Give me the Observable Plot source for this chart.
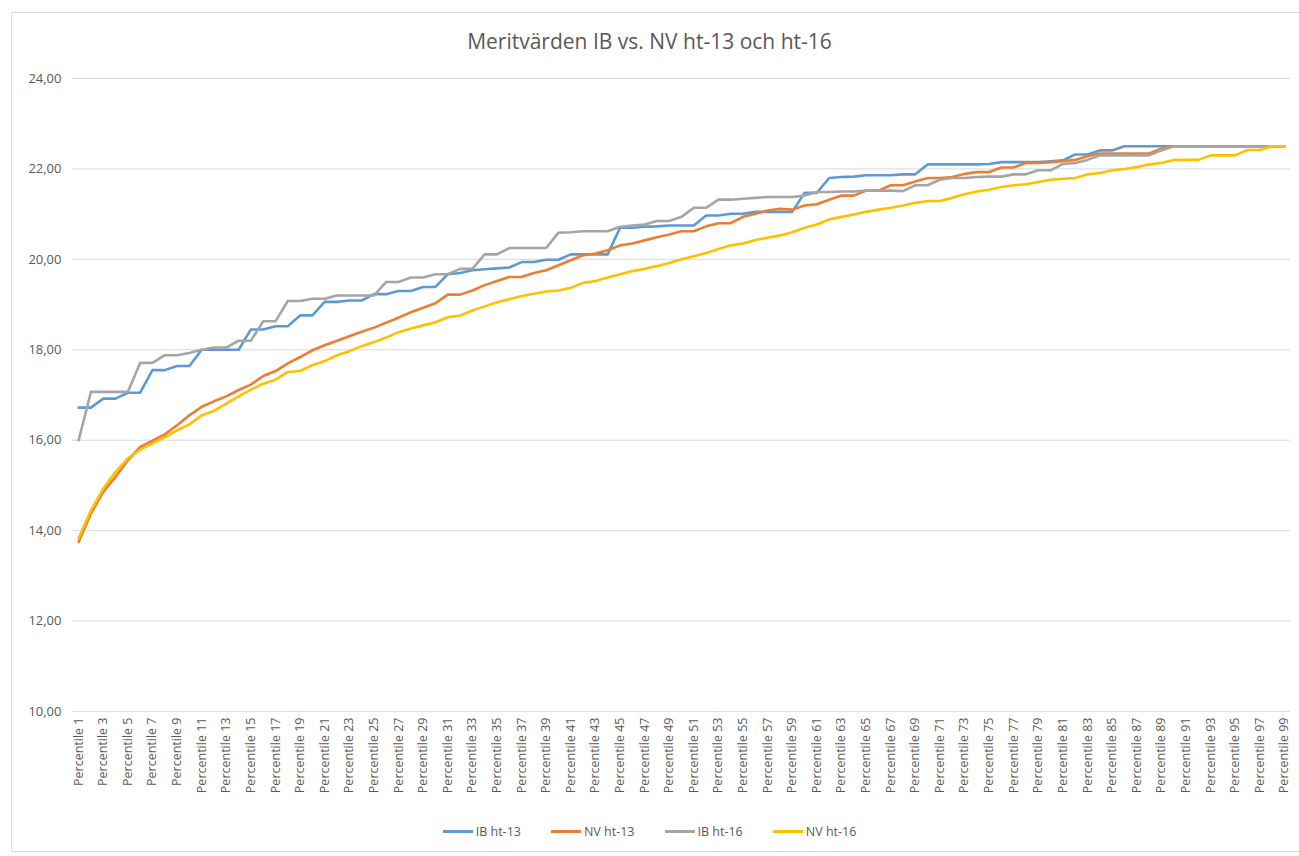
<!DOCTYPE html>
<html>
<head>
<meta charset="utf-8">
<script src="https://cdn.jsdelivr.net/npm/d3@7"></script>
<script src="https://cdn.jsdelivr.net/npm/@observablehq/plot@0.6"></script>
<style>
  body { margin: 0; background: #fff; font-family: "Open Sans", sans-serif; }
  #wrap { position: relative; width: 1299px; height: 856px; overflow: hidden; background: #fff; }
  #frame { position: absolute; left: 11px; top: 12px; width: 1300px; height: 840px; border: 1px solid #d9d9d9; box-sizing: border-box; }
  #title { position: absolute; top: 27px; left: 0; width: 1299px; text-align: center; font-size: 21px; color: #595959; }
  #chart { position: absolute; left: 0; top: 60px; }
  #legend { position: absolute; top: 823px; left: 0; width: 1299px; display: flex; justify-content: center; gap: 30px; font-size: 12.5px; color: #595959; }
  .item { display: flex; align-items: center; gap: 3px; }
  .sw { width: 30px; height: 3px; }
</style>
</head>
<body>
<div id="wrap">
  <div id="frame"></div>
  <div id="title"></div>
  <div id="chart"></div>
  <div id="legend"></div>
</div>
<script>
const titleText = "Meritvärden IB vs. NV ht-13 och ht-16";
const percentiles = d3.range(1, 100).map(i => "Percentile " + i);
const xTickLabels = percentiles.filter((d, i) => i % 2 === 0);
const yTicks = [10, 12, 14, 16, 18, 20, 22, 24];
const seriesNames = ["IB ht-13", "NV ht-13", "IB ht-16", "NV ht-16"];
const seriesColors = ["#5b9bd5", "#ed7d31", "#a5a5a5", "#ffc000"];

const ibHt13 = [16.72,16.72,16.92,16.92,17.05,17.05,17.55,17.55,17.64,17.64,
  18.0,18.0,18.0,18.0,18.45,18.45,18.52,18.52,18.76,18.76,
  19.06,19.06,19.09,19.09,19.23,19.23,19.3,19.3,19.39,19.39,
  19.67,19.7,19.76,19.78,19.8,19.82,19.94,19.94,19.99,19.99,
  20.11,20.11,20.11,20.11,20.7,20.7,20.72,20.73,20.75,20.75,
  20.75,20.97,20.97,21.01,21.01,21.05,21.05,21.05,21.05,21.47,
  21.47,21.8,21.82,21.83,21.86,21.86,21.86,21.88,21.88,22.1,
  22.1,22.1,22.1,22.1,22.11,22.15,22.15,22.15,22.15,22.17,
  22.19,22.32,22.32,22.41,22.41,22.5,22.5,22.5,22.5,22.5,
  22.5,22.5,22.5,22.5,22.5,22.5,22.5,22.5,22.5];

const nvHt13 = [13.75,14.38,14.86,15.19,15.56,15.85,15.99,16.13,16.33,16.55,
  16.74,16.86,16.97,17.11,17.23,17.42,17.53,17.7,17.84,17.99,
  18.1,18.2,18.3,18.4,18.49,18.6,18.71,18.83,18.93,19.03,
  19.22,19.22,19.31,19.43,19.52,19.61,19.61,19.7,19.76,19.87,
  19.98,20.09,20.13,20.2,20.31,20.35,20.42,20.49,20.55,20.62,
  20.62,20.73,20.8,20.8,20.94,21.01,21.08,21.12,21.1,21.19,
  21.22,21.32,21.41,21.41,21.52,21.52,21.64,21.64,21.72,21.8,
  21.8,21.82,21.89,21.93,21.93,22.03,22.03,22.13,22.13,22.15,
  22.17,22.2,22.28,22.34,22.34,22.34,22.34,22.34,22.45,22.5,
  22.5,22.5,22.5,22.5,22.5,22.5,22.5,22.5,22.5];

const ibHt16 = [16.0,17.07,17.07,17.07,17.07,17.71,17.71,17.88,17.88,17.93,
  18.0,18.05,18.05,18.2,18.2,18.63,18.63,19.08,19.08,19.13,
  19.13,19.2,19.2,19.2,19.2,19.5,19.5,19.6,19.6,19.67,
  19.67,19.79,19.79,20.11,20.11,20.25,20.25,20.25,20.25,20.59,
  20.6,20.62,20.62,20.62,20.72,20.75,20.77,20.85,20.85,20.94,
  21.14,21.14,21.32,21.32,21.34,21.36,21.38,21.38,21.38,21.41,
  21.49,21.49,21.5,21.5,21.52,21.52,21.52,21.51,21.64,21.64,
  21.76,21.8,21.8,21.82,21.83,21.83,21.88,21.88,21.97,21.97,
  22.11,22.13,22.2,22.3,22.3,22.3,22.3,22.3,22.41,22.5,
  22.5,22.5,22.5,22.5,22.5,22.5,22.5,22.5,22.5];

const nvHt16 = [13.83,14.45,14.93,15.3,15.6,15.79,15.93,16.07,16.22,16.35,
  16.55,16.65,16.81,16.97,17.12,17.25,17.34,17.51,17.53,17.66,
  17.75,17.88,17.97,18.08,18.17,18.27,18.39,18.47,18.54,18.61,
  18.72,18.76,18.87,18.96,19.05,19.12,19.19,19.24,19.29,19.31,
  19.37,19.48,19.52,19.6,19.67,19.74,19.79,19.85,19.92,20.0,
  20.07,20.14,20.23,20.31,20.35,20.43,20.48,20.53,20.6,20.7,
  20.77,20.88,20.94,20.99,21.05,21.1,21.14,21.19,21.25,21.29,
  21.29,21.36,21.44,21.5,21.54,21.6,21.64,21.66,21.71,21.76,
  21.78,21.8,21.88,21.91,21.97,22.0,22.04,22.1,22.13,22.2,
  22.2,22.2,22.3,22.3,22.3,22.42,22.42,22.5,22.5];

const seriesValues = [ibHt13, nvHt13, ibHt16, nvHt16];
const rows = seriesNames.flatMap((s, k) =>
  seriesValues[k].map((v, i) => ({ series: s, percentile: percentiles[i], value: v })));

document.getElementById("title").textContent = titleText;

const chart = Plot.plot({
  width: 1299,
  height: 755,
  marginLeft: 72,
  marginRight: 9,
  marginTop: 18,
  marginBottom: 104,
  style: { fontFamily: "Open Sans, sans-serif", fontSize: "12px", color: "#595959", background: "transparent", overflow: "visible" },
  x: { type: "point", domain: percentiles, padding: 0.5, round: false },
  y: { domain: [10, 24] },
  color: { domain: seriesNames, range: seriesColors },
  marks: [
    Plot.gridY(yTicks, { stroke: "#d9d9d9", strokeOpacity: 1, strokeWidth: 1 }),
    Plot.axisY(yTicks, { tickSize: 0, tickPadding: 11, label: null, fontSize: 13,
      tickFormat: d => d.toFixed(2).replace(".", ",") }),
    Plot.axisX(xTickLabels, { tickSize: 0, tickRotate: -90, tickPadding: 6, label: null, fontSize: 12.5 }),
    Plot.line(rows, { x: "percentile", y: "value", stroke: "series", z: "series", strokeWidth: 2.6, strokeLinejoin: "round" })
  ]
});
document.getElementById("chart").appendChild(chart);

const legend = document.getElementById("legend");
seriesNames.forEach((s, k) => {
  const item = document.createElement("div");
  item.className = "item";
  const sw = document.createElement("div");
  sw.className = "sw";
  sw.style.background = seriesColors[k];
  const tx = document.createElement("span");
  tx.textContent = s;
  item.appendChild(sw);
  item.appendChild(tx);
  legend.appendChild(item);
});
</script>
</body>
</html>
